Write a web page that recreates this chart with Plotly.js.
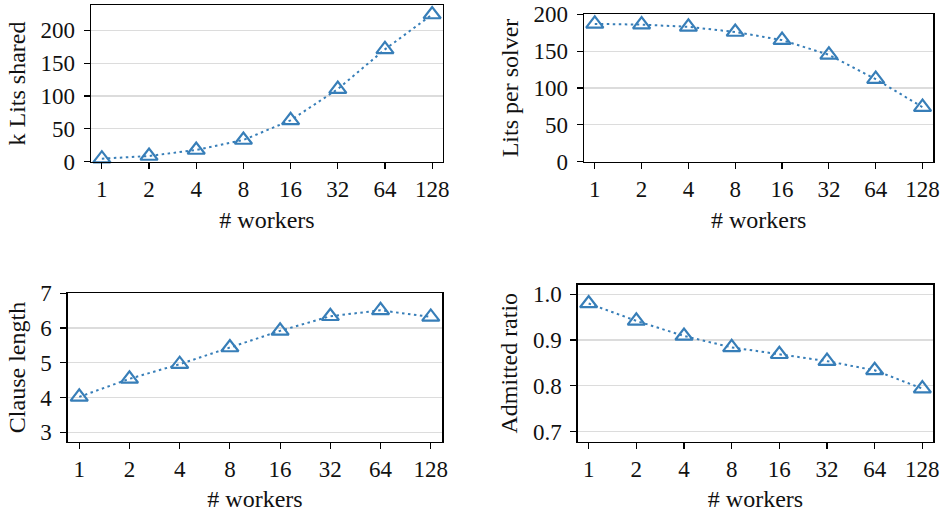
<!DOCTYPE html>
<html>
<head>
<meta charset="utf-8">
<script src="https://cdn.plot.ly/plotly-3.0.1.min.js"></script>
<style>html,body{margin:0;padding:0;background:#fff}#chart{width:945px;height:512px}</style>
</head>
<body>
<div id="chart"></div>
<script>
const workers = ['1','2','4','8','16','32','64','128'];
const kLitsShared = [4.6, 8.7, 17.8, 33, 63, 110.5, 171, 224];
const litsPerSolver = [187, 186, 183, 176, 165, 145, 112, 74];
const clauseLength = [4.02, 4.54, 4.96, 5.44, 5.92, 6.34, 6.51, 6.32];
const admittedRatio = [0.980, 0.942, 0.909, 0.884, 0.869, 0.854, 0.834, 0.794];

const yTitles = ['k Lits shared', 'Lits per solver', 'Clause length', 'Admitted ratio'];
const series = [kLitsShared, litsPerSolver, clauseLength, admittedRatio];
const yRanges = [[0, 238], [0, 200], [2.73, 7], [0.678, 1.021]];
const yTicks = [[0, 50, 100, 150, 200], [0, 50, 100, 150, 200], [3, 4, 5, 6, 7], [0.7, 0.8, 0.9, 1.0]];
const yTickText = [null, null, null, ['0.7', '0.8', '0.9', '1.0']];

const W = 945, H = 512;
// plot boxes in pixels: [left, right, top, bottom]
const boxes = [[91, 443, 5.3, 161.7], [584, 933.3, 14.3, 161.7], [67.7, 442.3, 293.3, 441.7], [577.7, 933.3, 284.7, 441.7]];

const color = '#377eb8';
const tickFont = {family: 'Liberation Serif, serif', size: 23, color: '#111'};
const titleFont = {family: 'Liberation Serif, serif', size: 24, color: '#111'};
const traces = [];
const layout = {
  width: W, height: H,
  margin: {l: 0, r: 0, t: 0, b: 0},
  paper_bgcolor: '#fff', plot_bgcolor: '#fff',
  showlegend: false,
  font: tickFont
};
for (let i = 0; i < 4; i++) {
  const sx = i === 0 ? '' : String(i + 1);
  traces.push({
    x: workers, y: series[i], type: 'scatter', mode: 'lines+markers',
    xaxis: 'x' + sx, yaxis: 'y' + sx,
    line: {color: color, width: 2, dash: '2.5px,3.5px'},
    marker: {symbol: 'triangle-up-open', size: 15, color: color, line: {width: 2.2, color: color}},
    cliponaxis: false
  });
  const b = boxes[i];
  layout['xaxis' + sx] = {
    domain: [b[0] / W, b[1] / W], anchor: 'y' + sx,
    type: 'category', range: [-0.23, 7.23],
    showline: true, linecolor: '#000', linewidth: 1.3, mirror: true,
    ticks: 'outside', ticklen: 6, tickwidth: 1.2, tickcolor: '#000',
    showgrid: false, zeroline: false,
    tickfont: tickFont,
    title: {text: '# workers', font: titleFont, standoff: 10}
  };
  const ya = {
    domain: [1 - b[3] / H, 1 - b[2] / H], anchor: 'x' + sx,
    range: yRanges[i], tickvals: yTicks[i],
    showline: true, linecolor: '#000', linewidth: 1.3, mirror: true,
    ticks: 'outside', ticklen: 6, tickwidth: 1.2, tickcolor: '#000',
    ticklabelstandoff: 4,
    showgrid: true, gridcolor: '#dcdcdc', gridwidth: 1.2, zeroline: false,
    tickfont: tickFont,
    title: {text: yTitles[i], font: titleFont, standoff: 8}
  };
  if (yTickText[i]) ya.ticktext = yTickText[i];
  layout['yaxis' + sx] = ya;
}
Plotly.newPlot('chart', traces, layout, {displayModeBar: false, staticPlot: true});
</script>
</body>
</html>
